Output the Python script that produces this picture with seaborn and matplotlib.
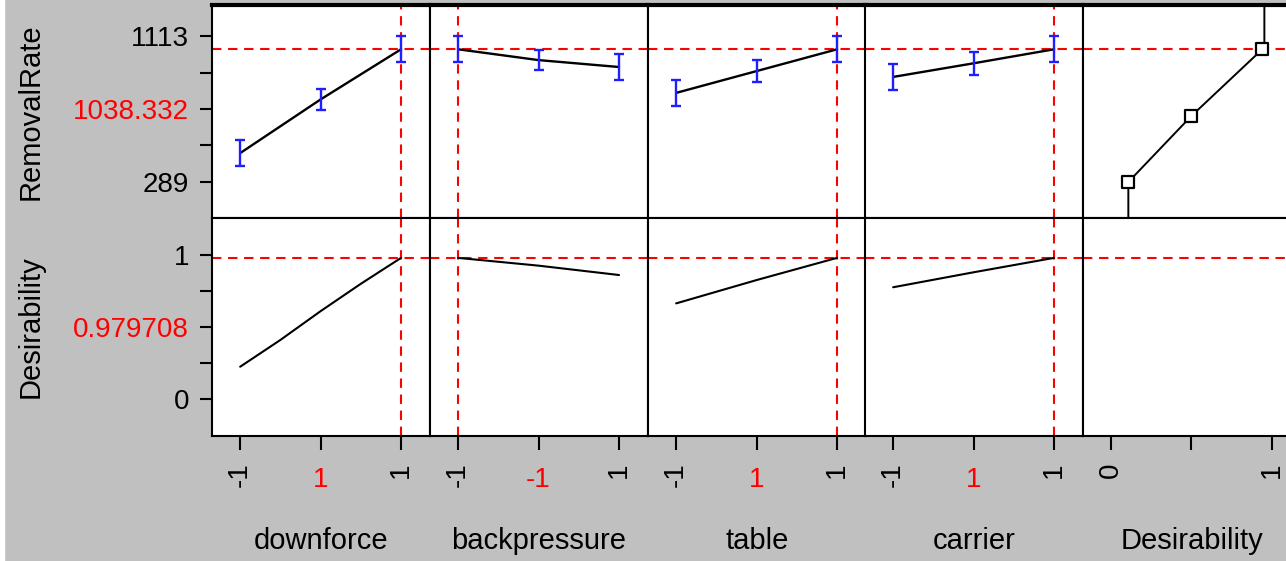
import matplotlib
matplotlib.use("Agg")
import matplotlib.pyplot as plt
from matplotlib.patches import Rectangle
from matplotlib.transforms import ScaledTranslation
import seaborn as sns
import numpy as np
import pandas as pd

# ---------------- data ----------------
factors = ["downforce", "backpressure", "table", "carrier"]
levels = [-1, 0, 1]

rr_downforce = [452, 755, 1038]
rr_backpressure = [1038, 977, 938]
rr_table = [792, 915, 1038]
rr_carrier = [882, 959, 1038]

err_downforce = [73, 59, 73]
err_backpressure = [74, 56, 73]
err_table = [73, 62, 74]
err_carrier = [72, 66, 74]

des_x_downforce = [-1, -0.5, 0, 0.5, 1]
des_downforce = [0.224, 0.41, 0.61, 0.80, 0.98]
des_x_backpressure = [-1, 0, 1]
des_backpressure = [0.98, 0.926, 0.861]
des_x_table = [-1, 0, 1]
des_table = [0.664, 0.826, 0.98]
des_x_carrier = [-1, 0, 1]
des_carrier = [0.776, 0.88, 0.98]

current_setting = [1, -1, 1, 1]
current_label = ["1", "-1", "1", "1"]
current_rr = 1038.332
current_des = 0.979708

# desirability function (RemovalRate vs desirability)
dfun_points_d = [0.11, 0.5, 0.94]
dfun_points_rr = [289, 661, 1038]
dfun_curve_d = [0.11, 0.11, 0.5, 0.94, 0.953, 0.953]
dfun_curve_rr = [-100, 289, 661, 1038, 1038, 1500]

rr_ticks = [289, 495, 701, 907, 1113]
rr_ticklabels = ["289", "", "1038.332", "", "1113"]
des_ticks = [0, 0.25, 0.5, 0.75, 1]
des_ticklabels = ["0", "", "0.979708", "", "1"]
des_xticks = [0, 0.5, 1]
des_xticklabels = ["0", "", "1"]

rr_means = [rr_downforce, rr_backpressure, rr_table, rr_carrier]
rr_errs = [err_downforce, err_backpressure, err_table, err_carrier]
des_xs = [des_x_downforce, des_x_backpressure, des_x_table, des_x_carrier]
des_vals = [des_downforce, des_backpressure, des_table, des_carrier]

# ---------------- style ----------------
sns.set_style("white")
plt.rcParams["font.family"] = ["Liberation Sans", "DejaVu Sans"]

W, H = 1286, 561
BG = "#C0C0C0"
FS = 20
FS_LAB = 21
fig = plt.figure(figsize=(W / 100, H / 100), dpi=100, facecolor=BG)
fig.patches.append(Rectangle((0, 0), 4 / W, 1, transform=fig.transFigure,
                             color="white", zorder=0))


def rect(x0, y0, x1, y1):
    return [x0 / W, 1 - y1 / H, (x1 - x0) / W, (y1 - y0) / H]


col_left = [212, 430, 648, 865, 1083]
col_w = 218
rows = [(5, 218), (218, 436)]
RED_DASH = (0, (4.5, 3.2))
LW_SPINE = 1.5

axes = [[None] * 5 for _ in range(2)]
for r, (y0, y1) in enumerate(rows):
    for c in range(5):
        ax = fig.add_axes(rect(col_left[c], y0, col_left[c] + col_w, y1))
        ax.set_facecolor("white")
        for s in ax.spines.values():
            s.set_color("black")
            s.set_linewidth(LW_SPINE)
        if r == 0:
            ax.spines["top"].set_linewidth(3)
        axes[r][c] = ax

# factor panels
for c in range(4):
    ax = axes[0][c]
    df = pd.DataFrame({"x": levels, "y": rr_means[c]})
    sns.lineplot(data=df, x="x", y="y", ax=ax, color="black", lw=1.7,
                 zorder=3)
    ax.errorbar(levels, rr_means[c], yerr=rr_errs[c], fmt="none",
                ecolor="#1E1EFF", elinewidth=1.7, capsize=3.6, capthick=1.7,
                zorder=4)
    ax2 = axes[1][c]
    df2 = pd.DataFrame({"x": des_xs[c], "y": des_vals[c]})
    sns.lineplot(data=df2, x="x", y="y", ax=ax2, color="black", lw=1.5,
                 zorder=3)

# desirability function panel
ax = axes[0][4]
dfc = pd.DataFrame({"d": dfun_curve_d, "rr": dfun_curve_rr})
sns.lineplot(data=dfc, x="d", y="rr", ax=ax, color="black", lw=1.4,
             sort=False, estimator=None, zorder=3)
dfp = pd.DataFrame({"d": dfun_points_d, "rr": dfun_points_rr})
sns.scatterplot(data=dfp, x="d", y="rr", ax=ax, marker="s", s=80,
                facecolor="white", edgecolor="black", linewidth=1.6, zorder=4)

for r in range(2):
    for c in range(5):
        ax = axes[r][c]
        ax.set_xlabel("")
        ax.set_ylabel("")
        if c < 4:
            ax.set_xlim(-1.35, 1.36)
            ax.set_xticks(levels)
            ax.set_xticklabels(["-1", current_label[c], "1"])
        else:
            ax.set_xlim(-0.171, 1.18)
            ax.set_xticks(des_xticks)
            ax.set_xticklabels(des_xticklabels)
        if r == 0:
            ax.set_ylim(85.8, 1288)
            ax.set_yticks(rr_ticks)
            ax.set_yticklabels(rr_ticklabels)
        else:
            ax.set_ylim(-0.257, 1.257)
            ax.set_yticks(des_ticks)
            ax.set_yticklabels(des_ticklabels)

        ax.tick_params(axis="x", bottom=(r == 1), labelbottom=(r == 1),
                       top=False, length=10, width=LW_SPINE, pad=9,
                       labelsize=FS, colors="black", direction="out")
        ax.tick_params(axis="y", left=(c == 0), labelleft=(c == 0),
                       right=False, length=8.6, width=LW_SPINE, pad=8,
                       labelsize=FS, colors="black", direction="out")

        # red reference lines
        ax.axhline(current_rr if r == 0 else current_des, color="#FF0000",
                   ls=RED_DASH, lw=1.5, zorder=1)
        if c < 4:
            ax.axvline(current_setting[c], color="#FF0000", ls=RED_DASH,
                       lw=1.5, zorder=1)

        if r == 1:
            labs = ax.get_xticklabels()
            labs[0].set_rotation(90)
            labs[2].set_rotation(90)
            if c < 4:
                labs[1].set_color("red")
                labs[1].set_transform(labs[1].get_transform() +
                                      ScaledTranslation(0, -0.05,
                                                        fig.dpi_scale_trans))
            name = factors[c] if c < 4 else "Desirability"
            ax.set_xlabel(name, fontsize=FS_LAB, color="black")
            ax.xaxis.set_label_coords(0.5, (436 - 541) / 218)
            ax.xaxis.label.set_verticalalignment("center")
        if c == 0:
            ax.get_yticklabels()[2].set_color("red")
            ax.set_ylabel("RemovalRate" if r == 0 else "Desirability",
                          fontsize=FS_LAB, color="black")
            ax.yaxis.set_label_coords((31 - 212) / 218, 0.5)
            ax.yaxis.label.set_verticalalignment("center")

fig.savefig("out.png", dpi=100, facecolor=BG)
